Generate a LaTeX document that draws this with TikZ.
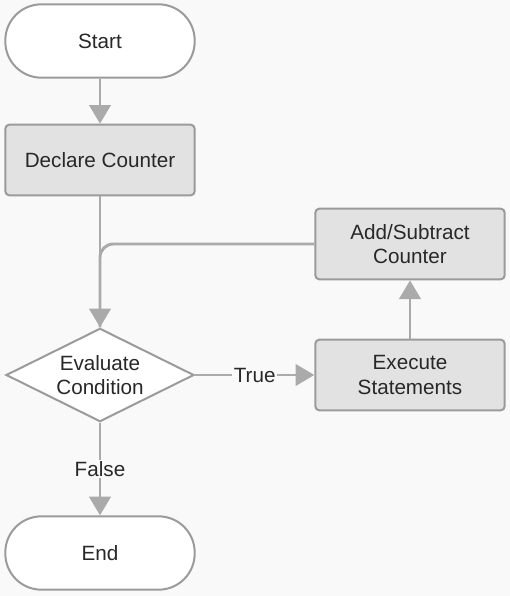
\documentclass[tikz,border=0pt]{standalone}
\usepackage{fontspec}
\setmainfont{Liberation Sans}
\usetikzlibrary{arrows.meta}
\usetikzlibrary{shapes.geometric}
\usetikzlibrary{positioning}
\definecolor{bggray}{RGB}{249,249,249}
\definecolor{edgegray}{RGB}{155,155,155}
\definecolor{flowgray}{RGB}{170,170,170}
\definecolor{boxgray}{RGB}{226,226,226}
\definecolor{txtgray}{RGB}{40,40,40}
\tikzset{
  terminal/.style = {draw = edgegray, line width = 1.5pt, fill = white, rectangle,
    rounded corners = 27pt, minimum width = 142pt, minimum height = 55pt,
    text = txtgray, font = \fontsize{15.5}{18.5}\selectfont},
  process/.style = {draw = edgegray, line width = 1.5pt, fill = boxgray, rectangle,
    rounded corners = 3pt, minimum width = 142pt, minimum height = 53pt,
    text = txtgray, align = center, font = \fontsize{15.5}{18.5}\selectfont},
  decision/.style = {draw = edgegray, line width = 1.5pt, fill = white, diamond,
    aspect = 2, inner sep = 0, minimum width = 141pt, minimum height = 70pt,
    text = txtgray, align = center, font = \fontsize{15.5}{18.5}\selectfont},
  flow/.style = {draw = flowgray, line width = 2.2pt},
  flowarrow/.style = {flow, -{Triangle[width = 16pt, length = 14pt]}},
  flowlabel/.style = {fill = bggray, inner sep = 1pt, text = txtgray,
    font = \fontsize{15.5}{18.5}\selectfont}
}

\begin{document}
\begin{tikzpicture}[x = 0.75pt, y = -0.75pt]
      \fill [bggray] (0, 0) rectangle (510, 596);

      \node [terminal] (start) at (100, 41) {Start};
      \node [process] (declare) at (100, 160) {Declare Counter};
      \node [decision] (cond) at (100, 375) {Evaluate\\Condition};
      \node [process] (exec) at (410, 375) {Execute\\Statements};
      \node [process] (update) at (410, 244) {Add/Subtract\\Counter};
      \node [terminal] (end) at (100, 553) {End};

      \draw [flowarrow] (start) -- (declare);
      \draw [flow, rounded corners = 10pt] (update.west) -| (cond.north);
      \draw [flowarrow] (declare) -- (cond);
      \draw [flowarrow] (cond) -- node [flowlabel] {True} (exec);
      \draw [flowarrow] (exec) -- (update);
      \draw [flowarrow] (cond) -- node [flowlabel] {False} (end);
    \end{tikzpicture}
\end{document}
